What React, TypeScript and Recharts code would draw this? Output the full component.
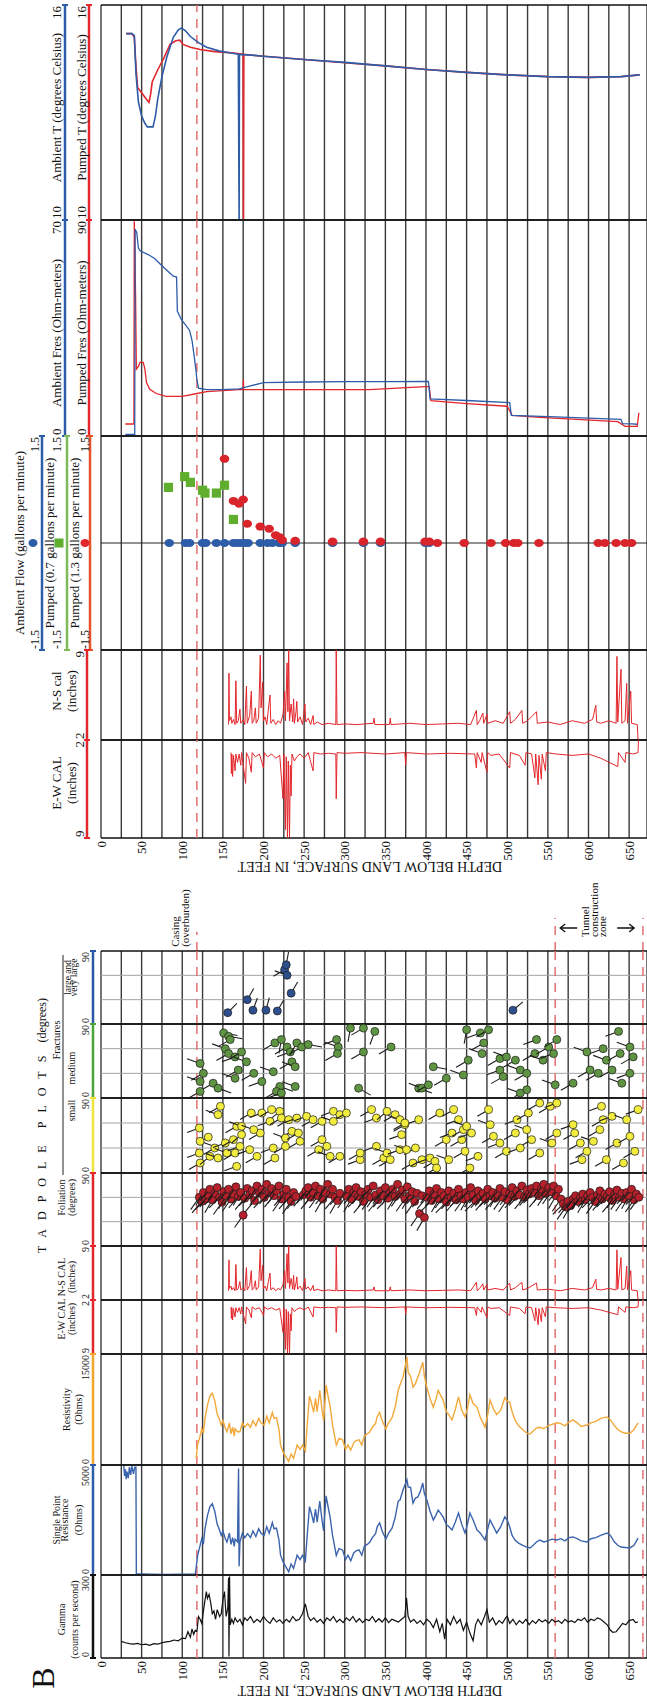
import React from "react";
import { ComposedChart, Line, Scatter, XAxis, YAxis, CartesianGrid, ReferenceLine } from "recharts";

const FONT = '"Liberation Serif", "Times New Roman", serif';
const W = 647;
const BLUE = "#2d5ca8";
const RED = "#e3262b";
const ORANGE = "#f2a93b";
const GREEN_BAR = "#7dbb5a";
const GREEN_SQ = "#5fae2e";
const YELLOW = "#f0e43c";
const DASH = "#e27070";
const GRID = "#3a3a3a";

// depth axis (feet)
const depthDomain = [0, 672];
const gridDepths = [0, 25, 50, 75, 100, 125, 150, 175, 200, 225, 250, 275, 300, 325, 350, 375, 400, 425, 450, 475, 500, 525, 550, 575, 600, 625, 650];
const casingDepth = 118;
const tunnelTop = 559;
const tunnelBottom = 667;

// temperature, degrees C  [depth, value]
const tempAmbient = [[31, 15.2], [38, 15.2], [41, 15.15], [43, 14.1], [46, 13.3], [50, 12.9], [54, 12.7], [57, 12.6], [64, 12.6], [67, 12.9], [70, 13.4], [75, 14.0], [81, 14.55], [89, 15.1], [95, 15.3], [99, 15.36], [104, 15.28], [110, 15.12], [120, 14.95], [130, 14.82], [145, 14.72], [160, 14.66], [169, 14.63], [170, 10], [170.4, 14.62], [185, 14.6], [200, 14.57], [250, 14.48], [300, 14.4], [350, 14.3], [400, 14.2], [450, 14.12], [500, 14.05], [550, 14.0], [600, 13.98], [640, 14.0], [663, 14.05]];
const tempPumped = [[31, 15.2], [38, 15.2], [41, 15.1], [43, 14.3], [45, 13.7], [50, 13.55], [55, 13.4], [59, 13.28], [61, 13.5], [63, 13.85], [70, 14.2], [77, 14.5], [85, 14.9], [92, 15.0], [97, 15.02], [101, 14.9], [110, 14.82], [122, 14.76], [140, 14.7], [163, 14.66], [175, 14.63], [175.4, 10], [175.8, 14.62], [200, 14.57], [250, 14.48], [300, 14.39], [350, 14.3], [400, 14.2], [450, 14.12], [500, 14.05], [550, 14.0], [600, 13.98], [640, 14.0], [663, 14.05]];

// fluid resistivity, ohm-m
const fresAmbient = [[30, 0.5], [41.5, 0.5], [42, 67], [44, 66], [46, 61], [48, 60], [58, 58.8], [66, 57.5], [74, 55.4], [82, 53.5], [89, 51.8], [93, 51.5], [94, 40.4], [99, 37.7], [104, 36], [109, 34.2], [112, 31], [115, 25.3], [117, 21], [118, 18.3], [120, 15.5], [130, 15], [150, 15], [170, 15.3], [185, 16.3], [200, 17.3], [250, 17.5], [300, 17.6], [350, 17.6], [403, 17.7], [405, 12], [450, 11.5], [503, 10.8], [505, 6.7], [560, 6.2], [600, 5.8], [640, 5.4], [642, 4], [653, 3.9], [660, 3.8]];
const fresPumped = [[30, 5], [40.5, 5], [41, 89.5], [42.5, 60], [43.5, 27.8], [46, 29], [48, 30.7], [52, 30.7], [54, 28], [56, 22.3], [60, 19.5], [68, 17.7], [80, 16.5], [100, 16.5], [115, 17.5], [130, 18.5], [170, 19.3], [175, 19.3], [175.3, 23.5], [175.6, 19.3], [250, 19.3], [330, 19.3], [399, 20.6], [404, 20.6], [406, 14.7], [450, 13.5], [500, 12.4], [506, 8.6], [540, 7.8], [580, 7], [636, 6], [645, 4], [660, 4], [662, 9.7]];

// flow, gallons per minute
const flowAmbient = [[84, 0], [104, 0], [109, 0], [125, 0], [129, 0], [142, 0], [152, 0], [163, 0], [168, 0], [172, 0], [178, 0], [181, 0], [196, 0], [205, 0], [211, 0], [219, 0], [223, 0], [239, 0], [285, 0], [323, 0], [344, 0], [399, 0], [404, 0]];
const flowPumped07 = [[83, 0.78], [103, 0.93], [110, 0.85], [125, 0.74], [128, 0.7], [142, 0.7], [152, 0.81], [163, 0.33]];
const flowPumped13 = [[152, 1.18], [163, 0.59], [170, 0.55], [175, 0.61], [180, 0.27], [196, 0.23], [207, 0.2], [215, 0.11], [220, 0.08], [223, 0.04], [239, 0.03], [285, 0.02], [323, 0.02], [344, 0.02], [399, 0.02], [404, 0.02], [414, 0], [447, 0], [480, 0], [498, 0], [508, 0], [513, 0], [539, 0], [612, 0], [620, 0], [634, 0], [645, 0], [653, 0]];

// caliper, inches
const calNS = [[157, 3.2], [157.5, 7.2], [158, 3.5], [160, 3.8], [161, 3.3], [163, 3.6], [165, 3.2], [166, 6.6], [167, 3.3], [169, 3.5], [171, 4.4], [172, 3.3], [175, 3.6], [177, 3.2], [179, 6.2], [180, 3.3], [183, 3.9], [185, 5.8], [186, 3.3], [188, 3.5], [190, 4.5], [191, 3.3], [194, 3.7], [196, 8.6], [197, 4.5], [199, 6.5], [200, 3.5], [202, 3.8], [204, 3.2], [206, 4.4], [208, 5.5], [209, 3.3], [212, 3.6], [215, 3.2], [218, 3.5], [221, 3.3], [224, 4.0], [226, 5.8], [227, 3.5], [229, 8.0], [230, 4.2], [231, 9.0], [232, 3.5], [234, 4.8], [236, 3.4], [237, 5.2], [238, 3.3], [240, 4.2], [241, 5.0], [242, 3.4], [245, 3.8], [248, 3.2], [251, 4.8], [252, 3.4], [255, 3.7], [258, 3.2], [261, 3.9], [262, 3.2], [266, 3.4], [272, 3.2], [280, 3.3], [289, 3.2], [289.5, 9.0], [290.5, 3.2], [300, 3.25], [315, 3.2], [335, 3.3], [336, 3.7], [337, 3.2], [355, 3.2], [356, 3.7], [357, 3.2], [380, 3.3], [400, 3.2], [420, 3.25], [440, 3.3], [455, 3.2], [462, 4.3], [463, 3.2], [466, 3.5], [470, 4.1], [471, 3.3], [475, 4.0], [476, 3.3], [485, 3.5], [495, 3.3], [503, 4.2], [504, 3.3], [510, 3.6], [518, 4.3], [519, 3.3], [525, 3.5], [536, 4.2], [537, 3.3], [550, 3.4], [565, 3.2], [580, 3.5], [595, 3.3], [605, 3.6], [609, 4.7], [610, 3.4], [615, 3.3], [625, 3.5], [634, 3.3], [635, 8.5], [636, 3.4], [640, 7.5], [641, 3.3], [645, 3.5], [647, 6.4], [648, 3.3], [652, 5.8], [653, 3.3], [660, 3.2], [661, 2.0]];
const calEW = [[160, 2.9], [160.5, 4.4], [161, 3.0], [162, 4.6], [163, 3.1], [165, 4.2], [166, 3.0], [168, 3.6], [170, 3.0], [172, 3.8], [173, 2.9], [178, 5.1], [179, 2.9], [182, 3.3], [185, 4.3], [186, 2.9], [190, 3.2], [195, 3.0], [200, 4.0], [201, 2.9], [205, 3.2], [210, 3.0], [215, 3.3], [220, 3.1], [224, 6.2], [225, 3.0], [227, 8.4], [228, 3.2], [229.5, 9.0], [230.5, 3.5], [232, 9.0], [233, 3.8], [234, 6.0], [235, 3.0], [238, 3.5], [241, 3.2], [245, 3.0], [250, 3.3], [255, 2.9], [261, 4.2], [262, 2.9], [270, 3.0], [280, 2.95], [289, 3.0], [289.5, 6.2], [290.5, 2.9], [300, 2.95], [320, 2.9], [350, 3.0], [374, 2.9], [375, 3.8], [376, 2.9], [400, 3.0], [430, 2.95], [460, 3.0], [462, 4.0], [463, 2.9], [468, 3.6], [469, 2.9], [475, 4.3], [476, 2.9], [480, 3.1], [490, 3.0], [503, 4.0], [504, 2.9], [515, 3.1], [522, 3.8], [523, 2.9], [530, 3.0], [534, 4.7], [535, 3.0], [538, 5.2], [539, 3.1], [542, 4.8], [543, 3.0], [547, 4.2], [548, 2.9], [560, 3.0], [580, 3.1], [600, 3.0], [615, 3.3], [636, 3.9], [637, 2.9], [645, 3.6], [646, 2.9], [655, 3.0], [661, 2.9], [661.5, 2.0]];

// gamma, counts per second
const gammaLog = [[25, 60], [30, 55], [35, 52], [40, 50], [45, 53], [50, 48], [55, 50], [60, 46], [65, 52], [70, 50], [75, 55], [80, 58], [85, 60], [90, 65], [95, 62], [100, 72], [104, 70], [107, 95], [110, 75], [112, 105], [114, 85], [116, 100], [118, 95], [120, 150], [122, 140], [124, 125], [127, 190], [129.7, 240], [131, 215], [133, 230], [135, 200], [137, 160], [139, 170], [141, 140], [143, 175], [146, 150], [148, 160], [150, 210], [152, 240], [154, 150], [156, 180], [157, 290], [157.5, 5], [158.2, 295], [159, 120], [161, 140], [163, 125], [165, 145], [168, 130], [171, 140], [174, 120], [177, 145], [180, 135], [184, 150], [188, 128], [192, 140], [196, 130], [200, 150], [204, 135], [208, 125], [212, 145], [216, 130], [220, 138], [224, 125], [228, 140], [232, 130], [236, 150], [240, 135], [244, 140], [248, 160], [251.5, 196], [255, 150], [258, 135], [262, 145], [266, 130], [270, 140], [274, 125], [278, 145], [282, 135], [286, 150], [290, 130], [294, 140], [298, 128], [302, 145], [306, 135], [310, 150], [314, 130], [318, 142], [322, 128], [326, 140], [330, 135], [334, 150], [338, 130], [342, 142], [346, 130], [350, 145], [354, 128], [358, 140], [362, 135], [366, 130], [370, 140], [374, 150], [376, 218], [378, 150], [381, 130], [385, 140], [389, 125], [393, 135], [397, 120], [401, 140], [405, 130], [409, 110], [413, 140], [417, 95], [420, 125], [423, 68], [426, 140], [430, 120], [434, 150], [438, 125], [442, 140], [446, 100], [450, 130], [454, 90], [458, 62], [461, 120], [464, 140], [468, 120], [472, 150], [475, 175], [478, 130], [482, 145], [486, 120], [490, 135], [494, 125], [498, 145], [500, 151], [503, 125], [507, 140], [511, 120], [515, 135], [519, 125], [523, 140], [527, 120], [531, 135], [535, 125], [539, 140], [543, 130], [547, 138], [551, 125], [555, 140], [559, 130], [563, 135], [567, 125], [571, 140], [575, 130], [579, 135], [583, 128], [587, 140], [591, 135], [595, 145], [599, 130], [603, 140], [607, 135], [611, 145], [615, 140], [619, 130], [623, 120], [627, 100], [630, 93], [634, 95], [638, 110], [642, 125], [646, 120], [650, 135], [655, 139], [658, 128], [661, 130]];

// single point resistance, ohms
const sprLog = [[28, 4960], [29, 4500], [30, 4800], [31, 4350], [32, 4700], [33.5, 4400], [35, 4900], [36.5, 4550], [38, 4950], [40, 4600], [41.5, 4900], [43, 4900], [43.5, 60], [60, 40], [80, 30], [100, 40], [116, 50], [117, 300], [119, 900], [121, 1200], [124, 1640], [126, 1400], [128, 2100], [131, 2700], [134, 3100], [137, 3240], [140, 2900], [143, 2300], [145, 2140], [148, 1800], [150, 2000], [153, 1650], [155, 1500], [158, 1900], [160, 1390], [162, 1700], [164, 1300], [165, 1630], [168, 1500], [169.3, 4840], [170, 400], [171, 1500], [174, 1900], [177, 1700], [180.4, 1880], [184, 1700], [187, 2000], [190.6, 1750], [194, 2100], [197, 1900], [200.8, 1800], [204, 2200], [207, 1900], [210.9, 2380], [213, 2100], [216, 2130], [219, 1600], [221, 900], [224, 600], [227, 400], [231, 150], [234, 500], [237, 300], [241.4, 900], [245, 700], [248, 900], [251.5, 640], [254, 1900], [256.6, 3110], [259, 2800], [261.7, 2370], [264, 3000], [266, 2400], [269.3, 3360], [272, 2500], [274, 2000], [277, 3600], [280, 3000], [282, 2620], [285, 1800], [289.6, 890], [293, 1200], [297.3, 1140], [301, 700], [304, 900], [307.4, 650], [311, 1000], [314, 1100], [317.6, 1140], [321, 900], [324, 1300], [327.7, 1390], [331, 1500], [334, 1700], [337.9, 1880], [340, 2200], [343, 2370], [346, 2000], [350.6, 1630], [354, 1900], [358.2, 2130], [362, 2600], [365.8, 3360], [368, 3410], [372, 3900], [376.6, 4320], [378, 4000], [381, 3980], [384, 3270], [387, 3500], [390, 3545], [393, 3800], [396, 4180], [398, 3700], [401, 3410], [405, 2900], [409, 2500], [412, 2700], [415, 2950], [418, 2800], [421, 2640], [425, 2300], [428, 2200], [432, 2045], [436, 2400], [440, 2820], [444, 2300], [448, 1910], [451, 2300], [454, 2820], [458, 2500], [462.8, 2045], [467, 1900], [472.6, 1590], [476, 2100], [478.8, 2500], [483, 2200], [487, 1910], [492, 2200], [497, 2640], [500, 2500], [503, 2180], [506, 1800], [509.5, 1590], [514, 1450], [519, 1350], [524, 1270], [528, 1230], [532, 1350], [536, 1500], [540, 1590], [545, 1500], [550, 1550], [555, 1630], [561, 1590], [566, 1650], [571, 1550], [576, 1700], [581, 1730], [586, 1650], [591, 1550], [598, 1500], [603, 1650], [609, 1700], [615, 1800], [622.6, 1910], [627, 1800], [632, 1500], [636, 1350], [640, 1270], [645, 1250], [651, 1230], [656, 1350], [661, 1680]];

// resistivity, ohms
const resLog = [[117, 900], [119, 2800], [121, 3500], [124, 4900], [126, 4300], [128, 6300], [131, 8100], [134, 9300], [137, 9700], [140, 8700], [143, 6900], [145, 6400], [148, 5400], [150, 6000], [153, 5000], [155, 4500], [158, 5700], [160, 4200], [162, 5100], [164, 3900], [165, 4900], [168, 4500], [171, 4500], [174, 5700], [177, 5100], [180.4, 5600], [184, 5100], [187, 6000], [190.6, 5300], [194, 6300], [197, 5700], [200.8, 5400], [204, 6600], [207, 5700], [210.9, 7100], [213, 6300], [216, 6400], [219, 4800], [221, 2700], [224, 1800], [227, 1200], [231, 500], [234, 1500], [237, 900], [241.4, 2700], [245, 2100], [248, 2700], [251.5, 1900], [254, 5700], [256.6, 9300], [259, 8400], [261.7, 7100], [264, 9000], [266, 7200], [269.3, 10100], [272, 7500], [274, 6000], [277, 10800], [280, 9000], [282, 7900], [285, 5400], [289.6, 2700], [293, 3600], [297.3, 3400], [301, 2100], [304, 2700], [307.4, 2000], [311, 3000], [314, 3300], [317.6, 3400], [321, 2700], [324, 3900], [327.7, 4200], [331, 4500], [334, 5100], [337.9, 5600], [340, 6600], [343, 7100], [346, 6000], [350.6, 4900], [354, 5700], [358.2, 6400], [362, 7800], [365.8, 10100], [368, 10800], [372, 12000], [376.6, 14600], [378, 12500], [381, 12000], [384, 10500], [387, 11000], [390, 11900], [393, 12800], [396, 13900], [398, 12000], [401, 10500], [405, 9000], [409, 7800], [412, 8800], [415, 10100], [418, 9400], [421, 8800], [425, 7200], [428, 6800], [432, 6100], [436, 7500], [440, 9200], [444, 7400], [448, 6500], [451, 7600], [454, 9500], [458, 8300], [462.8, 7800], [467, 6400], [472.6, 5100], [476, 6800], [478.8, 8800], [483, 7600], [487, 6800], [492, 7400], [497, 9100], [500, 8600], [503, 8500], [506, 7200], [509.5, 6100], [514, 5300], [519, 4800], [524, 4300], [528, 4200], [532, 4600], [536, 5000], [540, 5100], [545, 4900], [550, 5300], [555, 5500], [561, 5700], [566, 5600], [571, 5300], [576, 5800], [581, 6100], [586, 5700], [591, 5200], [598, 5400], [603, 5700], [609, 5900], [615, 6300], [622.6, 6500], [627, 6100], [632, 5300], [636, 4800], [640, 4500], [645, 4300], [651, 4300], [656, 4800], [661, 5700]];

// tadpoles: [depth, dip degrees, tail direction degrees]
const tadLarge = [[156, 14, 315], [180, 30, 300], [187, 17, 290], [203, 17, 285], [217, 16, 300], [234, 38, 300], [226, 67, 150], [229, 60, 200], [228, 73, 280], [507, 17, 320]];
const tadMedium = [[151, 79, 10], [157, 75, 10], [159, 71, 150], [153, 60, 200], [157, 54, 150], [165, 50, 160], [173, 56, 150], [179, 44, 200], [169, 34, 150], [122, 42, 200], [126, 30, 150], [122, 20, 200], [138, 18, 150], [144, 12, 20], [122, 8, 150], [165, 24, 200], [188, 30, 150], [198, 20, 160], [212, 32, 200], [214, 67, 150], [222, 71, 100], [229, 62, 150], [233, 56, 160], [241, 67, 120], [247, 62, 150], [255, 65, 10], [235, 44, 150], [239, 38, 200], [220, 14, 20], [216, 8, 150], [222, 6, 160], [239, 14, 200], [290, 71, 160], [292, 62, 200], [291, 54, 150], [307, 85, 100], [323, 85, 150], [337, 81, 110], [323, 56, 150], [357, 62, 150], [317, 12, 30], [391, 12, 20], [450, 83, 100], [467, 79, 160], [477, 83, 150], [471, 67, 150], [469, 54, 200], [452, 46, 150], [446, 28, 200], [425, 24, 150], [409, 38, 10], [395, 12, 200], [403, 16, 150], [491, 48, 150], [499, 50, 200], [510, 46, 150], [491, 34, 160], [495, 26, 150], [516, 34, 200], [524, 30, 150], [536, 71, 160], [534, 54, 150], [544, 46, 200], [551, 62, 150], [561, 71, 150], [557, 54, 160], [524, 10, 150], [516, 6, 200], [559, 16, 200], [581, 18, 150], [598, 56, 200], [602, 34, 150], [618, 60, 160], [622, 46, 200], [612, 30, 150], [629, 34, 150], [637, 81, 160], [639, 54, 150], [651, 62, 200], [655, 50, 150], [651, 30, 160], [641, 18, 200]];
const tadSmall = [[147, 80, 150], [144, 70, 200], [121, 54, 160], [132, 43, 150], [122, 38, 20], [121, 24, 160], [122, 12, 150], [134, 20, 140], [144, 18, 200], [140, 30, 150], [153, 36, 160], [163, 40, 150], [155, 24, 200], [165, 24, 150], [171, 32, 160], [173, 46, 140], [167, 56, 150], [173, 56, 200], [185, 72, 150], [198, 72, 160], [210, 76, 150], [220, 74, 140], [208, 62, 160], [222, 66, 150], [231, 64, 150], [241, 66, 160], [235, 50, 150], [227, 42, 200], [245, 38, 150], [253, 68, 160], [261, 64, 150], [272, 62, 150], [286, 74, 160], [294, 70, 140], [302, 72, 150], [286, 62, 200], [272, 40, 150], [278, 32, 160], [268, 28, 150], [282, 20, 200], [294, 20, 150], [319, 16, 160], [319, 24, 150], [333, 76, 150], [339, 66, 160], [352, 74, 140], [362, 70, 150], [368, 64, 200], [374, 58, 150], [339, 32, 160], [348, 18, 150], [352, 24, 200], [356, 16, 150], [368, 28, 160], [387, 30, 150], [384, 12, 150], [391, 64, 160], [192, 20, 150], [183, 28, 160], [214, 18, 150], [196, 48, 150], [188, 52, 200], [212, 30, 160], [227, 32, 150], [243, 48, 150], [167, 8, 160], [374, 60, 150], [370, 46, 160], [376, 28, 200], [395, 16, 150], [405, 18, 160], [411, 14, 150], [413, 6, 150], [428, 16, 200], [425, 40, 150], [432, 48, 160], [417, 72, 150], [434, 76, 150], [440, 64, 160], [446, 52, 150], [450, 56, 200], [444, 40, 150], [456, 48, 160], [448, 26, 150], [454, 6, 150], [464, 20, 160], [477, 76, 150], [479, 58, 200], [483, 44, 150], [491, 36, 160], [499, 26, 150], [510, 48, 150], [512, 64, 160], [526, 72, 150], [524, 52, 200], [530, 40, 150], [516, 30, 160], [540, 84, 150], [553, 80, 150], [561, 84, 160], [561, 48, 150], [555, 36, 200], [540, 24, 150], [581, 58, 160], [583, 48, 150], [590, 36, 150], [592, 16, 160], [598, 26, 150], [606, 38, 200], [614, 52, 150], [616, 80, 160], [618, 64, 150], [622, 16, 150], [629, 68, 160], [635, 36, 150], [647, 64, 200], [651, 44, 150], [661, 76, 160], [657, 26, 150], [643, 12, 150]];
const tadFoliation = [[121, 60, 125], [124, 55, 130], [126, 66, 120], [129, 58, 135], [132, 63, 125], [134, 70, 130], [137, 57, 120], [140, 65, 130], [143, 72, 125], [146, 60, 135], [149, 54, 125], [151, 67, 130], [154, 62, 120], [157, 70, 130], [160, 58, 125], [163, 64, 135], [166, 73, 125], [169, 61, 130], [172, 66, 120], [175, 38, 125], [177, 59, 130], [180, 71, 125], [183, 63, 135], [186, 68, 125], [189, 56, 130], [192, 74, 120], [195, 65, 130], [198, 70, 125], [201, 60, 135], [204, 76, 125], [207, 66, 130], [210, 71, 120], [213, 62, 130], [216, 68, 125], [219, 74, 135], [222, 58, 125], [225, 64, 130], [228, 70, 120], [231, 60, 130], [234, 55, 125], [237, 66, 130], [240, 61, 125], [249, 63, 130], [252, 68, 125], [255, 72, 120], [258, 60, 130], [261, 66, 125], [264, 74, 135], [267, 62, 125], [270, 70, 130], [273, 58, 120], [276, 66, 130], [279, 76, 125], [282, 64, 135], [285, 70, 125], [288, 60, 130], [291, 56, 120], [294, 65, 130], [302, 62, 125], [305, 70, 130], [308, 58, 120], [311, 66, 130], [314, 72, 125], [317, 61, 135], [320, 67, 125], [323, 55, 130], [326, 64, 120], [329, 70, 130], [332, 60, 125], [335, 74, 135], [338, 63, 125], [341, 57, 130], [344, 68, 120], [347, 62, 130], [350, 72, 125], [353, 59, 135], [356, 66, 125], [359, 70, 130], [362, 61, 120], [365, 76, 130], [368, 64, 125], [371, 69, 135], [374, 58, 125], [377, 73, 130], [380, 62, 120], [383, 67, 130], [386, 55, 125], [389, 65, 135], [392, 40, 125], [395, 62, 130], [398, 35, 120], [401, 60, 130], [404, 68, 125], [407, 56, 135], [410, 64, 125], [413, 71, 130], [416, 58, 120], [419, 66, 130], [422, 62, 125], [425, 54, 135], [428, 68, 125], [431, 60, 130], [434, 65, 120], [437, 57, 130], [440, 70, 125], [443, 62, 135], [446, 58, 125], [449, 66, 130], [452, 60, 120], [455, 72, 130], [458, 63, 125], [461, 56, 135], [464, 68, 125], [467, 61, 130], [470, 65, 120], [473, 58, 130], [476, 70, 125], [479, 62, 135], [482, 66, 125], [485, 59, 130], [488, 64, 120], [491, 71, 130], [494, 60, 125], [497, 67, 135], [500, 57, 125], [503, 65, 130], [506, 72, 120], [509, 61, 130], [512, 68, 125], [515, 63, 135], [518, 74, 125], [521, 60, 130], [524, 69, 120], [527, 64, 130], [530, 71, 125], [533, 66, 135], [536, 74, 125], [539, 62, 130], [542, 70, 120], [545, 76, 130], [548, 65, 125], [551, 72, 135], [554, 67, 125], [557, 74, 130], [560, 62, 120], [563, 70, 130], [566, 58, 125], [569, 52, 135], [572, 48, 125], [575, 55, 130], [578, 50, 120], [581, 58, 130], [584, 62, 125], [587, 55, 135], [590, 60, 125], [593, 64, 130], [596, 57, 120], [599, 62, 130], [602, 66, 125], [605, 60, 135], [608, 55, 125], [611, 63, 130], [614, 68, 120], [617, 58, 130], [620, 64, 125], [623, 61, 135], [626, 67, 125], [629, 56, 130], [632, 63, 120], [635, 69, 130], [638, 60, 125], [641, 65, 135], [644, 58, 125], [647, 66, 130], [650, 62, 120], [653, 70, 130], [656, 57, 125], [659, 64, 135], [662, 60, 125]];

const pts = (a: number[][]) => a.map(([d, v]) => ({ d, v }));
const tads = (a: number[][]) => a.map(([d, v, t]) => ({ d, v, t }));

type Title = { t: string; off: number; fs?: number };
type Scale = {
  id: string;
  width: number;
  domain: number[];
  reversed?: boolean;
  color?: string;
  tl?: string;
  bl?: string;
  numOff?: number;
  fs?: number;
  titles?: Title[];
  dy?: number;
  marker?: { kind: string; color: string; off: number };
  extra?: (bar: number, vb: any) => React.ReactNode;
};

const rot = (x: number, y: number) => `rotate(-90 ${x} ${y})`;
const noTick = () => <g />;

function scaleAxis(s: Scale) {
  const fs = s.fs ?? 13;
  const topVal = s.reversed ? s.domain[0] : s.domain[1];
  const tick = (p: any) => {
    const { x, y, payload } = p;
    const isTop = payload.value === topVal;
    const tx = x - (s.numOff ?? 3);
    return (
      <g>
        <line x1={x - 3} x2={x + 3} y1={y} y2={y} stroke={s.color} strokeWidth={2} />
        <text x={tx} y={y} dx={isTop ? -1 : 1} transform={rot(tx, y)} textAnchor={isTop ? "end" : "start"} fontSize={fs} fontFamily={FONT} fill="#111">
          {isTop ? s.tl : s.bl}
        </text>
      </g>
    );
  };
  const label = (p: any) => {
    const vb = p.viewBox;
    if (!vb) return null;
    const bar = vb.x + vb.width;
    const cy = vb.y + vb.height / 2 + (s.dy ?? 0);
    return (
      <g>
        {(s.titles ?? []).map((tl, i) => {
          const bx = bar - tl.off;
          return (
            <text key={i} x={bx} y={cy} transform={rot(bx, cy)} textAnchor="middle" fontSize={tl.fs ?? fs} fontFamily={FONT} fill="#111">
              {tl.t}
            </text>
          );
        })}
        {s.marker ? (
          s.marker.kind === "sq" ? (
            <rect x={bar - s.marker.off - 4.5} y={cy - 4.5} width={9} height={9} fill={s.marker.color} />
          ) : (
            <ellipse cx={bar - s.marker.off} cy={cy} rx={4.5} ry={4} fill={s.marker.color} />
          )
        ) : null}
        {s.extra ? s.extra(bar, vb) : null}
      </g>
    );
  };
  return (
    <YAxis
      key={s.id}
      yAxisId={s.id}
      dataKey="v"
      type="number"
      domain={s.domain}
      reversed={s.reversed}
      width={s.width}
      ticks={s.color ? s.domain : []}
      interval={0}
      allowDataOverflow
      axisLine={s.color ? { stroke: s.color, strokeWidth: 2.5 } : false}
      tickLine={false}
      tickSize={0}
      tickMargin={0}
      tick={s.color ? tick : false}
      label={s.titles || s.extra ? label : undefined}
    />
  );
}

const depthTick = (p: any) => {
  const { x, y, payload } = p;
  if (payload.value % 50 !== 0) return <g />;
  return (
    <text x={x} y={y} dy={4.5} transform={rot(x, y)} textAnchor="end" fontSize={13} fontFamily={FONT} fill="#111">
      {payload.value}
    </text>
  );
};

const depthTitle = (offset: number) => (p: any) => {
  const vb = p.viewBox;
  if (!vb) return null;
  const cx = vb.x + vb.width / 2 - 4;
  const cy = vb.y + offset;
  return (
    <text x={cx} y={cy} transform={`rotate(180 ${cx} ${cy})`} textAnchor="middle" dominantBaseline="central" fontSize={14} fontFamily={FONT} fill="#111">
      DEPTH BELOW LAND SURFACE, IN FEET
    </text>
  );
};

// scales are listed nearest-to-plot first; ids sort the same way
function Track(props: any) {
  const { top, h, scales, main, guides, tunnel, titleOffset, children } = props;
  const axisH = titleOffset ? 45 : 0;
  const used = scales.reduce((a: number, s: Scale) => a + s.width, 0);
  const ms = scales.find((s: Scale) => s.id === main);
  return (
    <div style={{ position: "absolute", left: 0, top: top - 1 }}>
      <ComposedChart width={W} height={h + 2 + axisH} margin={{ top: 1, right: 0, bottom: 1, left: 101 - used }}>
        <XAxis
          type="number"
          dataKey="d"
          domain={depthDomain}
          ticks={gridDepths}
          interval={0}
          allowDataOverflow
          height={axisH}
          axisLine={false}
          tickLine={false}
          tickSize={0}
          tickMargin={3}
          tick={titleOffset ? depthTick : noTick}
          label={titleOffset ? depthTitle(titleOffset) : undefined}
        />
        {[...scales].reverse().map(scaleAxis)}
        <CartesianGrid yAxisId={main} horizontal={false} stroke={GRID} strokeWidth={1.4} />
        {(guides ?? []).map((g: number) => (
          <ReferenceLine key={"g" + g} yAxisId={main} y={g} stroke="#a3a3a3" strokeWidth={1} />
        ))}
        <ReferenceLine yAxisId={main} y={ms.domain[0]} stroke="#111" strokeWidth={1.5} />
        <ReferenceLine yAxisId={main} y={ms.domain[1]} stroke="#111" strokeWidth={1.5} />
        <ReferenceLine yAxisId={main} x={casingDepth} stroke={DASH} strokeWidth={1.5} strokeDasharray="9 7" />
        {tunnel
          ? [tunnelTop, tunnelBottom].map((d) => (
              <ReferenceLine key={"t" + d} yAxisId={main} x={d} stroke={DASH} strokeWidth={1.5} strokeDasharray="9 7" />
            ))
          : null}
        {children}
      </ComposedChart>
    </div>
  );
}

const tadpole = (fill: string, len: number) => (p: any) => {
  const { cx, cy, payload } = p;
  if (cx == null || cy == null) return <g />;
  const a = ((payload?.t ?? 135) * Math.PI) / 180;
  return (
    <g>
      <line x1={cx} y1={cy} x2={cx + len * Math.cos(a)} y2={cy + len * Math.sin(a)} stroke="#1b1b1b" strokeWidth={1.1} />
      <circle cx={cx} cy={cy} r={4} fill={fill} stroke="#1b1b1b" strokeWidth={0.7} />
    </g>
  );
};
const ellipseShape = (fill: string) => (p: any) =>
  p.cx == null ? <g /> : <ellipse cx={p.cx} cy={p.cy} rx={4.8} ry={4} fill={fill} />;
const squareShape = (p: any) =>
  p.cx == null ? <g /> : <rect x={p.cx - 4.6} y={p.cy - 4.6} width={9.2} height={9.2} fill={GREEN_SQ} />;

const sp = (id: string, w: number): Scale => ({ id, width: w, domain: [0, 1] });

// top panel scales
const tempScales: Scale[] = [
  sp("t0", 12),
  { id: "t1", width: 24, domain: [10, 16], color: RED, tl: "16", bl: "10", numOff: 3, titles: [{ t: "Pumped T (degrees Celsius)", off: 3 }], dy: -5 },
  { id: "t2", width: 24, domain: [10, 16], color: BLUE, tl: "16", bl: "10", numOff: 4, titles: [{ t: "Ambient T (degrees Celsius)", off: 4 }], dy: -5 },
];
const fresScales: Scale[] = [
  sp("f0", 12),
  { id: "f1", width: 24, domain: [0, 90], color: RED, tl: "90", bl: "0", numOff: 3, titles: [{ t: "Pumped Fres (Ohm-meters)", off: 3 }], dy: 5 },
  { id: "f2", width: 24, domain: [0, 70], color: BLUE, tl: "70", bl: "0", numOff: 4, titles: [{ t: "Ambient Fres (Ohm-meters)", off: 4 }], dy: 5 },
];
const flowScales: Scale[] = [
  sp("q0", 11),
  { id: "q1", width: 23, domain: [-1.5, 1.5], color: "#e8532b", tl: "1.5", bl: "-1.5", numOff: 1.5, fs: 12, titles: [{ t: "Pumped (1.3 gallons per minute)", off: 11, fs: 13 }], marker: { kind: "dot", color: RED, off: 5 } },
  { id: "q2", width: 25, domain: [-1.5, 1.5], color: GREEN_BAR, tl: "1.5", bl: "-1.5", numOff: 6, fs: 12, titles: [{ t: "Pumped (0.7 gallons per minute)", off: 13, fs: 13 }], marker: { kind: "sq", color: GREEN_SQ, off: 8 } },
  { id: "q3", width: 42, domain: [-1.5, 1.5], color: BLUE, tl: "1.5", bl: "-1.5", numOff: 3, fs: 12, titles: [{ t: "Ambient Flow (gallons per minute)", off: 18, fs: 13 }], marker: { kind: "dot", color: BLUE, off: 9 } },
];
const nsScales: Scale[] = [
  sp("n0", 14),
  { id: "n1", width: 40, domain: [2, 9], color: RED, tl: "9", bl: "2", numOff: 3, titles: [{ t: "N-S cal", off: 26 }, { t: "(inches)", off: 11 }], dy: -4 },
];
const ewScales: Scale[] = [
  sp("e0", 14),
  { id: "e1", width: 40, domain: [2, 9], reversed: true, color: RED, tl: "2", bl: "9", numOff: 3, titles: [{ t: "E-W CAL", off: 26 }, { t: "(inches)", off: 11 }], dy: -6 },
];

// bottom panel scales
const bs = (s: Scale): Scale[] => [sp("b0", 8), { numOff: 4.5, fs: 10, ...s, id: "b1", width: 60 }];
const fracturesHeader = (bar: number, vb: any) => {
  const fx = bar - 33;
  const fy = vb.y + 16;
  const tx = bar - 47;
  const ty = vb.y + 229;
  return (
    <g>
      <text x={fx} y={fy} transform={rot(fx, fy)} textAnchor="middle" fontSize={10.5} fontFamily={FONT} fill="#111">Fractures</text>
      <line x1={bar - 30} x2={bar - 30} y1={vb.y - 69} y2={vb.y + 151} stroke="#222" strokeWidth={1} />
      <text x={tx} y={ty} transform={rot(tx, ty)} textAnchor="start" fontSize={12} fontFamily={FONT} fill="#111">
        <tspan letterSpacing={9}>TADPOLE</tspan>
        <tspan dx={8} letterSpacing={9}>PLOTS</tspan>
        <tspan dx={4}>(degrees)</tspan>
      </text>
    </g>
  );
};
const letterB = (bar: number, vb: any) => {
  const bx = bar - 39;
  const by = vb.y + vb.height + 20;
  return (
    <text x={bx} y={by} transform={rot(bx, by)} textAnchor="middle" fontSize={32} fontFamily={FONT} fill="#111">B</text>
  );
};
const largeScales = bs({ id: "lg", width: 60, domain: [0, 90], color: "#2b56a3", tl: "90", bl: "0", titles: [{ t: "large and", off: 22, fs: 9.5 }, { t: "very large", off: 16, fs: 9.5 }], dy: -10 });
const mediumScales = bs({ id: "md", width: 60, domain: [0, 90], color: "#4aa43a", tl: "90", bl: "0", titles: [{ t: "medium", off: 18 }], dy: 7, extra: fracturesHeader });
const smallScales = bs({ id: "sm", width: 60, domain: [0, 90], color: YELLOW, tl: "90", bl: "0", titles: [{ t: "small", off: 18 }], dy: -25 });
const folScales = bs({ id: "fo", width: 60, domain: [0, 90], color: RED, tl: "90", bl: "0", titles: [{ t: "Foliation", off: 28 }, { t: "(degrees)", off: 18 }], dy: -12 });
const ns2Scales = bs({ id: "ns2", width: 60, domain: [2, 9], color: RED, tl: "9", bl: "2", titles: [{ t: "N-S CAL", off: 28 }, { t: "(inches)", off: 18 }], dy: 4 });
const ew2Scales = bs({ id: "ew2", width: 60, domain: [2, 9], reversed: true, color: RED, tl: "2", bl: "9", titles: [{ t: "E-W CAL", off: 28 }, { t: "(inches)", off: 18 }], dy: -8 });
const resScales = bs({ id: "rs", width: 60, domain: [0, 15000], color: "#f4a62a", tl: "15000", bl: "0", titles: [{ t: "Resistivity", off: 23 }, { t: "(Ohms)", off: 11 }] });
const sprScales = bs({ id: "sr", width: 60, domain: [0, 5000], color: BLUE, tl: "5000", bl: "0", titles: [{ t: "Single Point", off: 33 }, { t: "Resistance", off: 25 }, { t: "(Ohms)", off: 11 }] });
const gammaScales = bs({ id: "gm", width: 60, domain: [0, 300], color: "#111", tl: "300", bl: "0", titles: [{ t: "Gamma", off: 28 }, { t: "(counts per second)", off: 15 }], dy: 3, extra: letterB });

const casingLabel = (p: any) => {
  const vb = p.viewBox;
  if (!vb) return null;
  const y = vb.y + 15;
  return (
    <g>
      {[["Casing", 18], ["(overburden)", 8]].map(([t, o]: any) => (
        <text key={t} x={vb.x - o} y={y} transform={rot(vb.x - o, y)} textAnchor="start" fontSize={11} fontFamily={FONT} fill="#111">{t}</text>
      ))}
    </g>
  );
};
const tunnelLabel = (p: any) => {
  const vb = p.viewBox;
  if (!vb) return null;
  const y = vb.y + 19;
  const ay = vb.y + 10;
  return (
    <g>
      {[["Tunnel", 34], ["construction", 42.5], ["zone", 51]].map(([t, o]: any) => (
        <text key={t} x={vb.x + o} y={y} transform={rot(vb.x + o, y)} textAnchor="start" fontSize={11} fontFamily={FONT} fill="#111">{t}</text>
      ))}
      <path d={`M${vb.x + 22} ${ay} H${vb.x + 5} M${vb.x + 10} ${ay - 4} L${vb.x + 5} ${ay} L${vb.x + 10} ${ay + 4}`} stroke="#111" strokeWidth={1.3} fill="none" />
      <path d={`M${vb.x + 62} ${ay} H${vb.x + 79} M${vb.x + 74} ${ay - 4} L${vb.x + 79} ${ay} L${vb.x + 74} ${ay + 4}`} stroke="#111" strokeWidth={1.3} fill="none" />
    </g>
  );
};

const lineProps = { dataKey: "v", dot: false, isAnimationActive: false, type: "linear" as const };

export default function App() {
  return (
    <div style={{ position: "absolute", left: 0, top: 0, width: W, height: 1701, background: "#fff", overflow: "hidden", fontFamily: FONT }}>
      <style>{`.recharts-surface{overflow:visible}`}</style>

      {/* top panel */}
      <Track top={5} h={215} scales={tempScales} main="t1">
        <Line yAxisId="t1" data={pts(tempPumped)} stroke={RED} strokeWidth={1.6} {...lineProps} />
        <Line yAxisId="t2" data={pts(tempAmbient)} stroke={BLUE} strokeWidth={1.6} {...lineProps} />
      </Track>
      <Track top={220} h={216} scales={fresScales} main="f1">
        <Line yAxisId="f1" data={pts(fresPumped)} stroke={RED} strokeWidth={1.3} {...lineProps} />
        <Line yAxisId="f2" data={pts(fresAmbient)} stroke={BLUE} strokeWidth={1.3} {...lineProps} />
      </Track>
      <Track top={436} h={214} scales={flowScales} main="q1">
        <ReferenceLine yAxisId="q1" y={0} stroke="#222" strokeWidth={1} />
        <Scatter yAxisId="q3" data={pts(flowAmbient)} shape={ellipseShape(BLUE)} isAnimationActive={false} />
        <Scatter yAxisId="q1" data={pts(flowPumped13)} shape={ellipseShape("#d8242a")} isAnimationActive={false} />
        <Scatter yAxisId="q2" data={pts(flowPumped07)} shape={squareShape} isAnimationActive={false} />
      </Track>
      <Track top={650} h={90} scales={nsScales} main="n1">
        <Line yAxisId="n1" data={pts(calNS)} stroke={RED} strokeWidth={1} {...lineProps} />
      </Track>
      <Track top={740} h={98} scales={ewScales} main="e1" titleOffset={28}>
        <Line yAxisId="e1" data={pts(calEW)} stroke={RED} strokeWidth={1} {...lineProps} />
      </Track>

      {/* annotations above the bottom panel */}
      <div style={{ position: "absolute", left: 0, top: 860 }}>
        <ComposedChart width={W} height={91} margin={{ top: 58, right: 0, bottom: 0, left: 101 }}>
          <XAxis type="number" dataKey="d" domain={depthDomain} hide allowDataOverflow />
          <YAxis yAxisId="h" type="number" dataKey="v" domain={[0, 1]} hide allowDataOverflow />
          <Line yAxisId="h" data={pts([[0, 0], [1, 0]])} stroke="none" {...lineProps} />
          <ReferenceLine yAxisId="h" segment={[{ x: casingDepth, y: 0 }, { x: casingDepth, y: 0.58 }]} stroke={DASH} strokeWidth={1.5} strokeDasharray="9 7" label={casingLabel} />
          <ReferenceLine yAxisId="h" x={tunnelTop} stroke={DASH} strokeWidth={1.5} strokeDasharray="9 7" label={tunnelLabel} />
          <ReferenceLine yAxisId="h" x={tunnelBottom} stroke={DASH} strokeWidth={1.5} strokeDasharray="9 7" />
        </ComposedChart>
      </div>

      {/* bottom panel */}
      <Track top={951} h={73} scales={largeScales} main="b1" guides={[30, 60]} tunnel>
        <Scatter yAxisId="b1" data={tads(tadLarge)} shape={tadpole("#2e4f8e", 13)} isAnimationActive={false} />
      </Track>
      <Track top={1024} h={74} scales={mediumScales} main="b1" guides={[30, 60]} tunnel>
        <Scatter yAxisId="b1" data={tads(tadMedium)} shape={tadpole("#5f9542", 14)} isAnimationActive={false} />
      </Track>
      <Track top={1098} h={75} scales={smallScales} main="b1" guides={[30, 60]} tunnel>
        <Scatter yAxisId="b1" data={tads(tadSmall)} shape={tadpole("#f1ec3e", 13)} isAnimationActive={false} />
      </Track>
      <Track top={1173} h={73} scales={folScales} main="b1" guides={[30, 60]} tunnel>
        <Scatter yAxisId="b1" data={tads(tadFoliation)} shape={tadpole("#b5202a", 15)} isAnimationActive={false} />
      </Track>
      <Track top={1246} h={54} scales={ns2Scales} main="b1" tunnel>
        <Line yAxisId="b1" data={pts(calNS)} stroke={RED} strokeWidth={1} {...lineProps} />
      </Track>
      <Track top={1300} h={54} scales={ew2Scales} main="b1" tunnel>
        <Line yAxisId="b1" data={pts(calEW)} stroke={RED} strokeWidth={1} {...lineProps} />
      </Track>
      <Track top={1354} h={111} scales={resScales} main="b1" tunnel>
        <Line yAxisId="b1" data={pts(resLog)} stroke={ORANGE} strokeWidth={1.4} {...lineProps} />
      </Track>
      <Track top={1465} h={110} scales={sprScales} main="b1" tunnel>
        <Line yAxisId="b1" data={pts(sprLog)} stroke="#3b64ad" strokeWidth={1.4} {...lineProps} />
      </Track>
      <Track top={1575} h={83} scales={gammaScales} main="b1" tunnel titleOffset={32}>
        <Line yAxisId="b1" data={pts(gammaLog)} stroke="#111" strokeWidth={1.2} {...lineProps} />
      </Track>
    </div>
  );
}
